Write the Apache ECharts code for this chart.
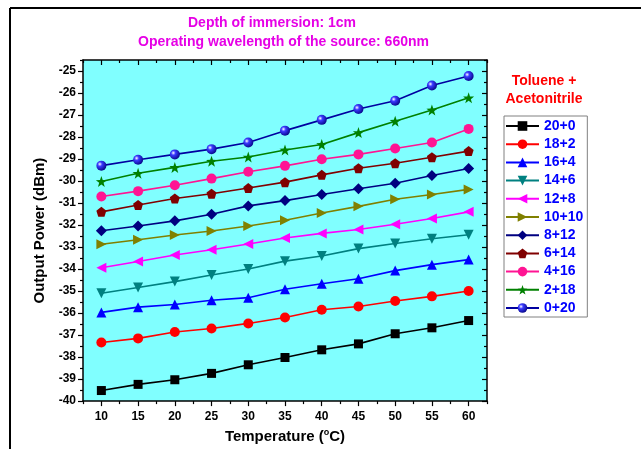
<!DOCTYPE html>
<html><head><meta charset="utf-8">
<script src="https://cdn.jsdelivr.net/npm/echarts@6/dist/echarts.min.js"></script>
<style>html,body{margin:0;padding:0;background:#fff}#c{width:641px;height:449px}</style>
</head><body><div id="c"></div>
<script>
const temps = [10,15,20,25,30,35,40,45,50,55,60];
const xTickLabels = [10,15,20,25,30,35,40,45,50,55,60];
const yTickLabels = [-40,-39,-38,-37,-36,-35,-34,-33,-32,-31,-30,-29,-28,-27,-26,-25];
const names = ['20+0','18+2','16+4','14+6','12+8','10+10','8+12','6+14','4+16','2+18','0+20'];
const s20_0  = [-39.52,-39.24,-39.03,-38.74,-38.35,-38.02,-37.67,-37.40,-36.94,-36.67,-36.34];
const s18_2  = [-37.34,-37.15,-36.86,-36.70,-36.47,-36.20,-35.85,-35.70,-35.45,-35.24,-35.00];
const s16_4  = [-35.97,-35.73,-35.61,-35.42,-35.30,-34.92,-34.67,-34.44,-34.07,-33.80,-33.57];
const s14_6  = [-35.10,-34.84,-34.57,-34.27,-34.00,-33.64,-33.41,-33.07,-32.84,-32.62,-32.44];
const s12_8  = [-33.94,-33.66,-33.36,-33.12,-32.86,-32.59,-32.38,-32.20,-31.96,-31.70,-31.40];
const s10_10 = [-32.87,-32.67,-32.45,-32.27,-32.04,-31.78,-31.45,-31.15,-30.83,-30.61,-30.38];
const s8_12  = [-32.26,-32.04,-31.81,-31.51,-31.13,-30.89,-30.61,-30.35,-30.10,-29.75,-29.43];
const s6_14  = [-31.40,-31.09,-30.79,-30.58,-30.32,-30.05,-29.72,-29.42,-29.19,-28.92,-28.64];
const s4_16  = [-30.70,-30.46,-30.19,-29.89,-29.58,-29.31,-29.01,-28.79,-28.52,-28.25,-27.63];
const s2_18  = [-30.02,-29.65,-29.38,-29.10,-28.91,-28.59,-28.34,-27.80,-27.28,-26.77,-26.22];
const s0_20  = [-29.30,-29.03,-28.79,-28.55,-28.25,-27.71,-27.22,-26.73,-26.35,-25.66,-25.23];

const allData = [s20_0,s18_2,s16_4,s14_6,s12_8,s10_10,s8_12,s6_14,s4_16,s2_18,s0_20];
const lineColors = ['#000000','#ff0000','#0000ff','#008080','#ff00ff','#808000','#000080','#800000','#ff1493','#008000','#0000a0'];
const pentagon = 'path://M0,-1 L0.951,-0.309 L0.588,0.809 L-0.588,0.809 L-0.951,-0.309 Z';
const star = 'path://M0,-1 L0.235,-0.324 L0.951,-0.309 L0.380,0.124 L0.588,0.809 L0,0.4 L-0.588,0.809 L-0.380,0.124 L-0.951,-0.309 L-0.235,-0.324 Z';
const sphere = {type:'radial',x:0.35,y:0.35,r:0.75,colorStops:[{offset:0,color:'#ffffff'},{offset:0.3,color:'#3a3aff'},{offset:1,color:'#00007a'}]};
const symbols = [
  {s:'rect',size:9,rot:0},
  {s:'circle',size:10,rot:0},
  {s:'triangle',size:10,rot:0},
  {s:'triangle',size:10,rot:180},
  {s:'triangle',size:10,rot:90},
  {s:'triangle',size:10,rot:-90},
  {s:'diamond',size:11,rot:0},
  {s:pentagon,size:10,rot:0},
  {s:'circle',size:10,rot:0},
  {s:star,size:11,rot:0},
  {s:'circle',size:10,rot:0}
];

const series = names.map((n,i)=>({
  name:n, type:'line', xAxisIndex:0, yAxisIndex:0,
  data: temps.map((t,j)=>[t, allData[i][j]]),
  symbol: symbols[i].s, symbolSize: symbols[i].size, symbolRotate: symbols[i].rot,
  lineStyle:{color:lineColors[i], width:1.6},
  itemStyle:{color: i===10 ? sphere : lineColors[i], borderWidth:0},
  emphasis:{disabled:true}, animation:false, z: 3
}));

const xMajor = xTickLabels;
const xMinor = xTickLabels.slice(0,-1).map(v=>v+2.5).concat([7.5,62.5]);
const yMajor = yTickLabels;
const yMinor = yTickLabels.map(v=>v+0.5);
const axisLine = {show:true,lineStyle:{color:'#000',width:1.5}};
const fontF = 'Liberation Sans, Arial, sans-serif';

function xAx(pos, ticks, len, inside, labels, line){
  return {type:'value', position:pos, min:7.5, max:62.5, gridIndex:0,
    axisLine: line?axisLine:{show:false},
    axisTick:{show:true, inside:inside, length:len, customValues:ticks, lineStyle:{color:'#000',width:1.2}},
    axisLabel: labels ? {show:true, customValues:xMajor, margin:10, fontSize:12, fontWeight:'bold', color:'#000', fontFamily:fontF} : {show:false},
    splitLine:{show:false}};
}
function yAx(pos, ticks, len, inside, labels, line){
  return {type:'value', position:pos, min:-40, max:-24.5, gridIndex:0,
    axisLine: line?axisLine:{show:false},
    axisTick:{show:true, inside:inside, length:len, customValues:ticks, lineStyle:{color:'#000',width:1.2}},
    axisLabel: labels ? {show:true, customValues:yMajor, margin:7, fontSize:12, fontWeight:'bold', color:'#000', fontFamily:fontF} : {show:false},
    splitLine:{show:false}};
}

const xAxes = [
  Object.assign(xAx('bottom', xMajor, 5, false, true, true), {
    name:'{a|Temperature (}{s|o}{a|C)}', nameLocation:'middle', nameGap:26,
    nameTextStyle:{rich:{a:{fontSize:15,fontWeight:'bold',color:'#000',fontFamily:fontF},s:{fontSize:9,fontWeight:'bold',color:'#000',fontFamily:fontF,verticalAlign:'top',padding:[0,0,8,0]}}}
  }),
  xAx('bottom', xMinor, 3, false, false, false),
  xAx('top', xMajor, 5, true, false, true),
  xAx('top', xMinor, 3, true, false, false)
];
const yAxes = [
  Object.assign(yAx('left', yMajor, 5, false, true, true), {
    name:'Output Power (dBm)', nameLocation:'middle', nameGap:32,
    nameTextStyle:{fontSize:15,fontWeight:'bold',color:'#000',fontFamily:fontF}
  }),
  yAx('left', yMinor, 3, false, false, false),
  yAx('right', yMajor, 5, true, false, true),
  yAx('right', yMinor, 3, true, false, false)
];

const chart = echarts.init(document.getElementById('c'), null, {renderer:'canvas'});
chart.setOption({
  animation:false,
  backgroundColor:'#ffffff',
  grid:{left:83, right:154, top:60, bottom:46, show:true, backgroundColor:'#80ffff', borderWidth:0},
  xAxis: xAxes,
  yAxis: yAxes,
  legend:{
    data:names, orient:'vertical', left:504, top:116, width:81,
    itemWidth:33, itemHeight:12, itemGap:4.2, padding:[3,4,2,1],
    borderColor:'#808080', borderWidth:1,
    textStyle:{color:'#0000ff', fontSize:14, fontWeight:'bold', fontFamily:fontF},
    selectedMode:false
  },
  series: series,
  graphic:[
    {type:'line', shape:{x1:10,y1:8,x2:641,y2:8}, style:{stroke:'#000',lineWidth:2}, z:10},
    {type:'line', shape:{x1:10,y1:8,x2:10,y2:449}, style:{stroke:'#000',lineWidth:2}, z:10},
    {type:'text', left:188, top:16, style:{text:'Depth of immersion: 1cm', fill:'#e600e6', font:'bold 14px '+fontF}},
    {type:'text', left:138, top:35, style:{text:'Operating wavelength of the source: 660nm', fill:'#e600e6', font:'bold 14px '+fontF}},
    {type:'text', x:544, y:81, style:{text:'Toluene +', fill:'#ff0000', font:'bold 14px '+fontF, align:'center', verticalAlign:'middle'}},
    {type:'text', x:544, y:99, style:{text:'Acetonitrile', fill:'#ff0000', font:'bold 14px '+fontF, align:'center', verticalAlign:'middle'}}
  ]
});
</script>
</body></html>
